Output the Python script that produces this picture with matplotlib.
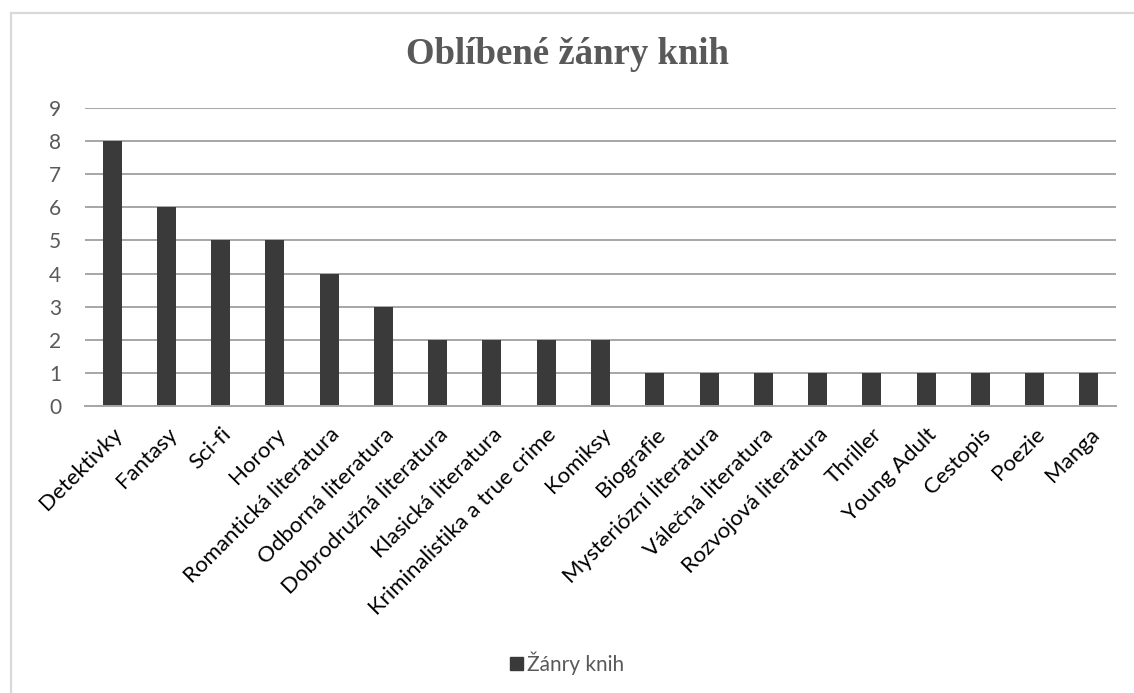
import matplotlib
matplotlib.use("Agg")
import matplotlib.pyplot as plt
import matplotlib.transforms as mtransforms
from matplotlib.lines import Line2D
from matplotlib.patches import Patch

genres = [
    "Detektivky", "Fantasy", "Sci-fi", "Horory", "Romantická literatura",
    "Odborná literatura", "Dobrodružná literatura", "Klasická literatura",
    "Kriminalistika a true crime", "Komiksy", "Biografie",
    "Mysteriózní literatura", "Válečná literatura", "Rozvojová literatura",
    "Thriller", "Young Adult", "Cestopis", "Poezie", "Manga",
]
counts = [8, 6, 5, 5, 4, 3, 2, 2, 2, 2, 1, 1, 1, 1, 1, 1, 1, 1, 1]
y_ticks = list(range(0, 10))

bar_color = "#3a3a3a"
text_color = "#595959"
grid_color = "#a6a6a6"
label_font = "Lato"

W, H = 1134, 693
fig = plt.figure(figsize=(W / 100, H / 100), dpi=100)

# chart frame (only top and left edges visible in the reference)
fig.add_artist(Line2D([10.5 / W, 10.5 / W], [0, 1 - 13 / H], color="#d9d9d9", lw=1.6))
fig.add_artist(Line2D([10.5 / W, 1], [1 - 13 / H, 1 - 13 / H], color="#d9d9d9", lw=1.6))

ax = fig.add_axes([85 / W, 1 - 406 / H, (1116 - 85) / W, (406 - 108) / H])
x = range(len(genres))
ax.bar(x, counts, width=0.35, color=bar_color, zorder=3)

ax.set_xlim(-0.5, len(genres) - 0.5)
ax.set_ylim(0, 9)
ax.set_yticks(y_ticks)
ax.yaxis.grid(True, color=grid_color, lw=1.4, zorder=0)
for s in ["top", "right", "left"]:
    ax.spines[s].set_visible(False)
ax.spines["bottom"].set_color(grid_color)
ax.spines["bottom"].set_linewidth(1.4)
ax.spines["bottom"].set_zorder(4)
ax.tick_params(length=0)
ax.tick_params(axis="y", pad=17, labelsize=15, labelcolor=text_color)

ax.set_xticks(list(x))
ax.set_xticklabels(genres, rotation=45, ha="right", rotation_mode="anchor",
                   fontsize=16, color="black", family=label_font)
ax.tick_params(axis="x", pad=13)
shift = mtransforms.ScaledTranslation(0, 0, fig.dpi_scale_trans)
for lbl in ax.get_xticklabels():
    lbl.set_transform(lbl.get_transform() + shift)
for lbl in ax.get_yticklabels():
    lbl.set_family(label_font)

fig.text(0.5, 1 - 55 / H, "Oblíbené žánry knih", ha="center", va="center",
         fontsize=26.5, fontweight="bold", color=text_color, family="Liberation Serif")

fig.legend(handles=[Patch(color=bar_color, label="Žánry knih")],
           loc="center", bbox_to_anchor=(567 / W, 1 - 663 / H), frameon=False,
           handlelength=0.6, handleheight=0.6, handletextpad=0.2,
           prop={"family": label_font, "size": 15}, labelcolor=text_color)

fig.savefig("out.png", dpi=100, facecolor="white")
